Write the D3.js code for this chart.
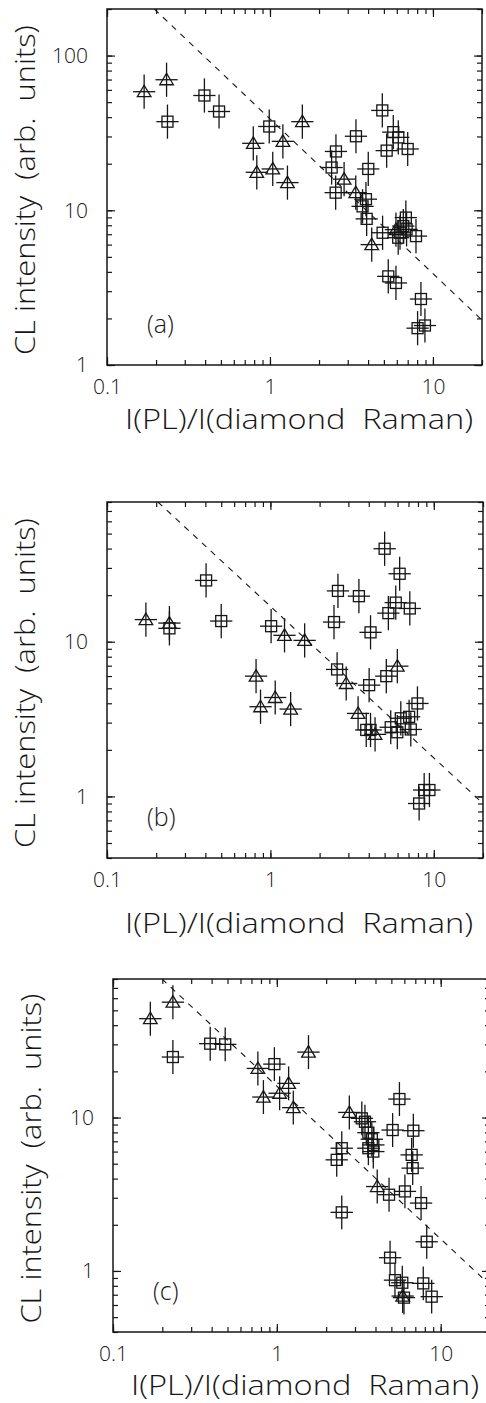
<!DOCTYPE html>
<html><head><meta charset="utf-8">
<script src="https://cdn.jsdelivr.net/npm/d3@7"></script>
<style>
html,body{margin:0;padding:0;background:#fff;}
svg{display:block;}
text{font-family:"Open Sans","DejaVu Sans",sans-serif;fill:#161616;}
</style></head><body>
<svg id="chart" width="486" height="1403"></svg>
<script>
// ---------- data ----------
const xTickValues = [0.1, 1, 10];
const xTickLabels = ["0.1", "1", "10"];
const xTitle = "I(PL)/I(diamond  Raman)";
const yTitle = "CL intensity  (arb.  units)";
const panelLabels = ["(a)", "(b)", "(c)"];

// panel (a)
const aYTickValues = [1, 10, 100];
const aYTickLabels = ["1", "10", "100"];
const aTriX = [0.169, 0.232, 0.79, 1.20, 1.58, 0.83, 1.04, 1.28, 2.85, 3.36, 4.21, 5.93];
const aTriY = [58.4, 69.8, 27.1, 27.9, 37.4, 17.6, 18.5, 15.1, 15.9, 13.0, 6.0, 7.5];
const aSqX = [0.235, 0.396, 0.487, 0.99, 4.89, 3.37, 2.54, 2.39, 4.01, 5.2, 5.71, 6.13, 7.0,
              2.53, 3.88, 3.7, 3.92, 4.91, 6.12, 6.28, 6.58, 6.82, 6.89, 7.87, 5.32, 5.93, 8.44, 8.05, 8.93];
const aSqY = [37.4, 55.2, 43.5, 34.8, 44.2, 30.1, 24.0, 18.9, 18.5, 24.3, 32.0, 29.6, 24.9,
              13.0, 11.8, 10.6, 8.8, 7.16, 6.65, 7.16, 7.91, 8.97, 7.53, 6.81, 3.74, 3.39, 2.67, 1.73, 1.80];
const aFitX = [0.195, 20];
const aFitY = [200, 1.95];

// panel (b)
const bYTickValues = [1, 10];
const bYTickLabels = ["1", "10"];
const bTriX = [0.173, 0.241, 1.22, 1.62, 0.817, 0.87, 1.07, 1.33, 2.91, 5.98, 3.44, 4.37];
const bTriY = [13.9, 13.2, 11.0, 10.2, 5.99, 3.80, 4.36, 3.67, 5.37, 6.95, 3.44, 2.52];
const bSqX = [0.241, 0.404, 0.50, 1.01, 5.0, 6.18, 2.59, 3.48, 5.85, 5.27, 7.13, 2.45, 4.10,
              2.56, 4.02, 5.12, 7.94, 6.28, 7.06, 5.45, 5.98, 7.23, 3.86, 4.10, 8.73, 9.4, 8.13];
const bSqY = [12.2, 24.9, 13.6, 12.6, 39.9, 27.5, 21.3, 19.7, 17.9, 15.3, 16.4, 13.4, 11.5,
              6.62, 5.24, 5.99, 3.99, 3.2, 3.27, 2.80, 2.60, 2.71, 2.69, 2.69, 1.10, 1.10, 0.90];
const bFitX = [0.205, 20];
const bFitY = [80, 0.9];

// panel (c)
const cYTickValues = [1, 10];
const cYTickLabels = ["1", "10"];
const cTriX = [0.169, 0.232, 0.766, 1.56, 0.828, 1.04, 1.18, 1.26, 2.77, 4.10, 5.86];
const cTriY = [44.1, 56.5, 20.9, 26.7, 13.6, 14.4, 16.7, 11.6, 10.8, 3.55, 0.686];
const cSqX = [0.232, 0.392, 0.484, 0.966, 3.30, 3.45, 3.62, 3.80, 3.88, 3.62, 3.88, 5.60, 5.09, 6.81,
              6.65, 6.75, 2.49, 2.32, 4.84, 6.05, 7.59, 2.49, 8.22, 4.91, 5.26, 5.83, 5.97, 7.83, 8.81];
const cSqY = [24.8, 30.3, 30.0, 22.3, 9.88, 9.39, 7.97, 7.22, 6.63, 6.31, 6.0, 13.2, 8.29, 8.21,
              5.71, 4.68, 6.31, 5.30, 3.14, 3.30, 2.77, 2.41, 1.55, 1.22, 0.871, 0.838, 0.67, 0.83, 0.68];
const cFitX = [0.199, 20];
const cFitY = [80, 0.81];

// relative error bars (multiplicative)
const xErrFactor = 1.17;
const yErrFactor = 1.29;

// ---------- layout ----------
const xDomain = [0.1, 20];
const panels = [
  {label: panelLabels[0], yDomain: [1, 200], yTickValues: aYTickValues, yTickLabels: aYTickLabels,
   triX: aTriX, triY: aTriY, sqX: aSqX, sqY: aSqY, fitX: aFitX, fitY: aFitY,
   l: 107, r: 482, t: 9, b: 365, titleY: 429},
  {label: panelLabels[1], yDomain: [0.4, 80], yTickValues: bYTickValues, yTickLabels: bYTickLabels,
   triX: bTriX, triY: bTriY, sqX: bSqX, sqY: bSqY, fitX: bFitX, fitY: bFitY,
   l: 107, r: 483, t: 502, b: 858, titleY: 933},
  {label: panelLabels[2], yDomain: [0.4, 80], yTickValues: cYTickValues, yTickLabels: cYTickLabels,
   triX: cTriX, triY: cTriY, sqX: cSqX, sqY: cSqY, fitX: cFitX, fitY: cFitY,
   l: 113, r: 490, t: 979, b: 1332, titleY: 1395}
];

const svg = d3.select("#chart");
const ink = "#161616";

function minorTicks(domain) {
  const out = [];
  const lo = Math.floor(Math.log10(domain[0])), hi = Math.ceil(Math.log10(domain[1]));
  for (let e = lo; e <= hi; e++) {
    for (let m = 1; m <= 9; m++) {
      const v = m * Math.pow(10, e);
      if (v >= domain[0] * 0.999 && v <= domain[1] * 1.001) out.push(v);
    }
  }
  return out;
}

panels.forEach((p, i) => {
  const x = d3.scaleLog().domain(xDomain).range([p.l, p.r]);
  const y = d3.scaleLog().domain(p.yDomain).range([p.b, p.t]);
  const g = svg.append("g");

  const clipId = "clip" + i;
  svg.append("clipPath").attr("id", clipId).append("rect")
    .attr("x", p.l).attr("y", p.t).attr("width", p.r - p.l).attr("height", p.b - p.t);

  const xMinor = minorTicks(xDomain);
  const yMinor = minorTicks(p.yDomain);
  const fmt = (vals, labels) => v => { const k = vals.findIndex(t => Math.abs(t - v) / v < 1e-6); return k >= 0 ? labels[k] : ""; };

  function styleAxis(sel) {
    sel.select(".domain").remove();
    sel.selectAll("line").attr("stroke", ink).attr("stroke-width", 1.2);
    sel.selectAll("text").attr("fill", ink).style("font-size", "21px").style("font-weight", "300");
  }

  // bottom
  g.append("g").attr("transform", `translate(0,${p.b})`)
    .call(d3.axisBottom(x).tickValues(xMinor).tickSize(-5).tickFormat(""))
    .call(styleAxis);
  g.append("g").attr("transform", `translate(0,${p.b})`)
    .call(d3.axisBottom(x).tickValues(xTickValues).tickSize(-8).tickPadding(14).tickFormat(fmt(xTickValues, xTickLabels)))
    .call(styleAxis);
  // top
  g.append("g").attr("transform", `translate(0,${p.t})`)
    .call(d3.axisTop(x).tickValues(xMinor).tickSize(-5).tickFormat(""))
    .call(styleAxis);
  g.append("g").attr("transform", `translate(0,${p.t})`)
    .call(d3.axisTop(x).tickValues(xTickValues).tickSize(-8).tickFormat(""))
    .call(styleAxis);
  // left
  g.append("g").attr("transform", `translate(${p.l},0)`)
    .call(d3.axisLeft(y).tickValues(yMinor).tickSize(-5).tickFormat(""))
    .call(styleAxis);
  g.append("g").attr("transform", `translate(${p.l},0)`)
    .call(d3.axisLeft(y).tickValues(p.yTickValues).tickSize(-8).tickPadding(19).tickFormat(fmt(p.yTickValues, p.yTickLabels)))
    .call(styleAxis);
  // right
  g.append("g").attr("transform", `translate(${p.r},0)`)
    .call(d3.axisRight(y).tickValues(yMinor).tickSize(-5).tickFormat(""))
    .call(styleAxis);
  g.append("g").attr("transform", `translate(${p.r},0)`)
    .call(d3.axisRight(y).tickValues(p.yTickValues).tickSize(-8).tickFormat(""))
    .call(styleAxis);

  // frame
  g.append("rect").attr("x", p.l).attr("y", p.t).attr("width", p.r - p.l).attr("height", p.b - p.t)
    .attr("fill", "none").attr("stroke", ink).attr("stroke-width", 1.5);

  // fit line
  const fit = p.fitX.map((v, k) => [v, p.fitY[k]]);
  g.append("path").attr("clip-path", `url(#${clipId})`)
    .attr("d", d3.line().x(d => x(d[0])).y(d => y(d[1]))(fit))
    .attr("fill", "none").attr("stroke", ink).attr("stroke-width", 1.1)
    .attr("stroke-dasharray", "6,6");

  const pts = [];
  p.sqX.forEach((v, k) => pts.push({x: v, y: p.sqY[k], s: "sq"}));
  p.triX.forEach((v, k) => pts.push({x: v, y: p.triY[k], s: "tri"}));

  const mk = g.append("g").attr("clip-path", `url(#${clipId})`)
    .attr("stroke", ink).attr("fill", "none").attr("stroke-width", 1.3);
  // error bars
  mk.selectAll(".ex").data(pts).join("line")
    .attr("x1", d => x(d.x / xErrFactor)).attr("x2", d => x(d.x * xErrFactor))
    .attr("y1", d => y(d.y)).attr("y2", d => y(d.y));
  mk.selectAll(".ey").data(pts).join("line")
    .attr("x1", d => x(d.x)).attr("x2", d => x(d.x))
    .attr("y1", d => y(d.y / yErrFactor)).attr("y2", d => y(d.y * yErrFactor));
  // squares
  const sq = 11;
  mk.selectAll(".sq").data(pts.filter(d => d.s === "sq")).join("rect")
    .attr("x", d => x(d.x) - sq / 2).attr("y", d => y(d.y) - sq / 2)
    .attr("width", sq).attr("height", sq);
  // triangles
  mk.selectAll(".tri").data(pts.filter(d => d.s === "tri")).join("path")
    .attr("transform", d => `translate(${x(d.x)},${y(d.y)})`)
    .attr("d", "M0,-6.5L6.8,5L-6.8,5Z");

  // panel label
  g.append("text").attr("x", p.l + 40).attr("y", p.b - 32)
    .style("font-size", "25px").style("font-weight", "300").text(p.label);

  // x title
  g.append("text").attr("x", p.l + 18).attr("y", p.titleY)
    .attr("textLength", 348).attr("lengthAdjust", "spacingAndGlyphs")
    .style("white-space", "pre").style("font-size", "27px").style("font-weight", "300")
    .text(xTitle);
  // y title
  const cy = (p.t + p.b) / 2 + 3;
  g.append("text").attr("transform", `translate(${p.l - 72},${cy}) rotate(-90)`)
    .attr("text-anchor", "middle").attr("textLength", 330).attr("lengthAdjust", "spacingAndGlyphs")
    .style("white-space", "pre").style("font-size", "27px").style("font-weight", "300")
    .text(yTitle);
});
</script>
</body></html>
